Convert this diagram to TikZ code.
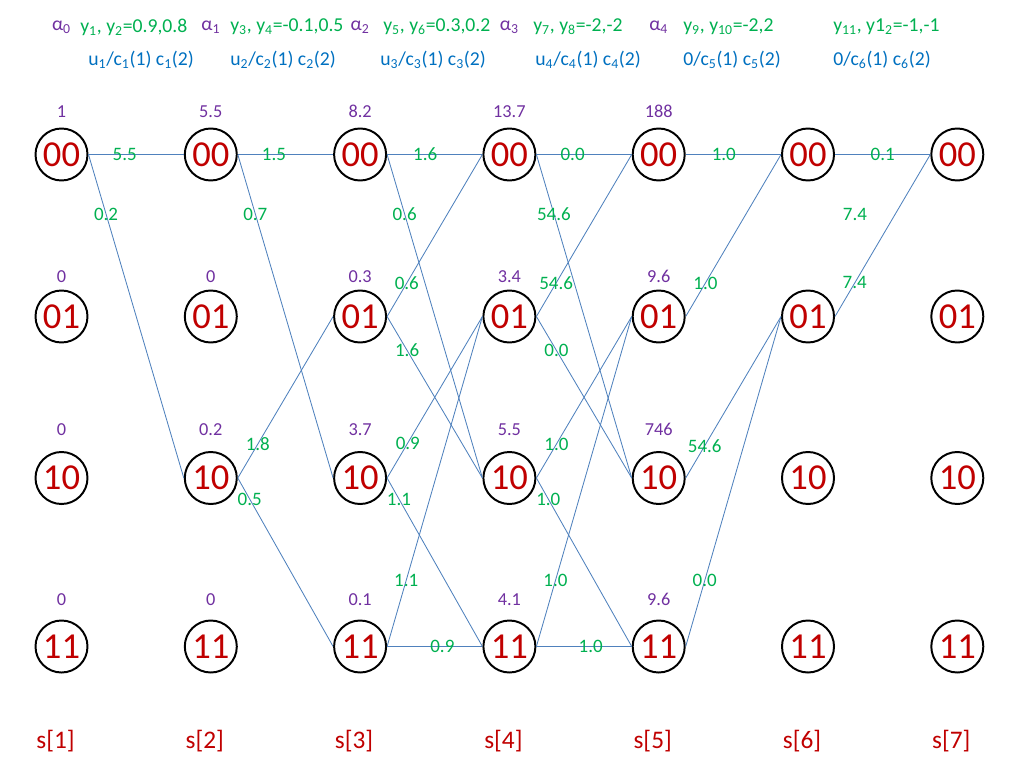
\documentclass[tikz,border=0pt]{standalone}
\usepackage{fontspec}
\setmainfont{Carlito}
\usetikzlibrary{positioning}
\definecolor{statered}{HTML}{C00000}
\definecolor{metricpurple}{HTML}{7030A0}
\definecolor{branchgreen}{HTML}{00B050}
\definecolor{headblue}{HTML}{0070C0}
\definecolor{linkblue}{HTML}{4F81BD}
\tikzset{
    trellis state/.style={
        draw,circle,line width=1.4pt,
        inner sep=0pt,minimum size=1.3cm,
        text=statered,font=\fontsize{26}{26}\selectfont
    },
    metric/.style={text=metricpurple,inner sep=1pt,font=\fontsize{13}{15}\selectfont},
    branch/.style={linkblue,line width=0.6pt},
    branch label/.style={text=branchgreen,inner sep=0pt,font=\fontsize{13.5}{15}\selectfont},
    head/.style={anchor=west,inner sep=0pt,font=\fontsize{14}{16}\selectfont},
    stage/.style={text=statered,font=\fontsize{18}{20}\selectfont}
}
\begin{document}
\begin{tikzpicture}[x=0.025cm,y=-0.025cm]
\useasboundingbox (0,0) rectangle (1024,768);
% states of the trellis
\foreach \c in {1,...,7}
    \foreach \r/\y in {00/154.5,01/316.5,10/478,11/646.5}
        \node[trellis state] (s\c-\r) at ({61.5+149.3*(\c-1)},\y) {\r};
% path metrics
\foreach \r/\dd/\vals in {00/5.6pt/{1,5.5,8.2,13.7,188},
                          01/3.4pt/{0,0,0.3,3.4,9.6},
                          10/9.8pt/{0,0.2,3.7,5.5,746},
                          11/8.4pt/{0,0,0.1,4.1,9.6}}
    \foreach \v [count=\c] in \vals
        \node[metric,above=\dd of s\c-\r] (m\c-\r) {\v};
% branches
\foreach \c/\a/\b/\w/\p in {1/00/00/5.5/.38,1/00/10/0.2/.184,
        2/00/00/1.5/.38,2/00/10/0.7/.184,2/10/01/1.8/.21,2/10/11/0.5/.125,
        3/00/00/1.6/.40,3/00/10/0.6/.184,3/01/00/0.6/.207,3/01/10/1.6/.21,
        3/10/01/0.9/.217,3/10/11/1.1/.125,3/11/01/1.1/.2,3/11/11/0.9/.58,
        4/00/00/0.0/.38,4/00/10/54.6/.184,4/01/00/54.6/.207,4/01/10/0.0/.21,
        4/10/01/1.0/.21,4/10/11/1.0/.125,4/11/01/1.0/.2,4/11/11/1.0/.57,
        5/00/00/1.0/.40,5/01/00/1.0/.207,5/10/01/54.6/.2,5/11/01/0.0/.2,
        6/00/00/0.1/.50,6/01/00/7.4/.207}
{
    \pgfmathtruncatemacro\d{\c+1}
    \draw[branch] (s\c-\a.east) -- node[branch label,pos=\p] {\w} (s\d-\b.west);
}
\node[branch label] (w6-extra) at (855,214) {7.4};
% header
\foreach \c/\k in {1/0,2/1,3/2,4/3,5/4}
    \node[text=metricpurple,font=\fontsize{14}{16}\selectfont] (alpha\k) at ({61.5+149.3*(\c-1)},27) {α\textsubscript{\k}};
\node[head,text=branchgreen] (y1) at (80,27) {y\textsubscript{1}, y\textsubscript{2}=0.9,0.8};
\node[head,text=branchgreen] (y2) at (230,27) {y\textsubscript{3}, y\textsubscript{4}=-0.1,0.5};
\node[head,text=branchgreen] (y3) at (383,27) {y\textsubscript{5}, y\textsubscript{6}=0.3,0.2};
\node[head,text=branchgreen] (y4) at (533,27) {y\textsubscript{7}, y\textsubscript{8}=-2,-2};
\node[head,text=branchgreen] (y5) at (683,27) {y\textsubscript{9}, y\textsubscript{10}=-2,2};
\node[head,text=branchgreen] (y6) at (833,27) {y\textsubscript{11}, y1\textsubscript{2}=-1,-1};
\node[head,text=headblue] (u1) at (88,60) {u\textsubscript{1}/c\textsubscript{1}(1) c\textsubscript{1}(2)};
\node[head,text=headblue] (u2) at (230,60) {u\textsubscript{2}/c\textsubscript{2}(1) c\textsubscript{2}(2)};
\node[head,text=headblue] (u3) at (380,60) {u\textsubscript{3}/c\textsubscript{3}(1) c\textsubscript{3}(2)};
\node[head,text=headblue] (u4) at (535,60) {u\textsubscript{4}/c\textsubscript{4}(1) c\textsubscript{4}(2)};
\node[head,text=headblue] (u5) at (683,60) {0/c\textsubscript{5}(1) c\textsubscript{5}(2)};
\node[head,text=headblue] (u6) at (833,60) {0/c\textsubscript{6}(1) c\textsubscript{6}(2)};
% stages
\foreach \c in {1,...,7}
    \node[stage] (t\c) at ({55.5+149.3*(\c-1)},741) {s[\c]};
\end{tikzpicture}
\end{document}
